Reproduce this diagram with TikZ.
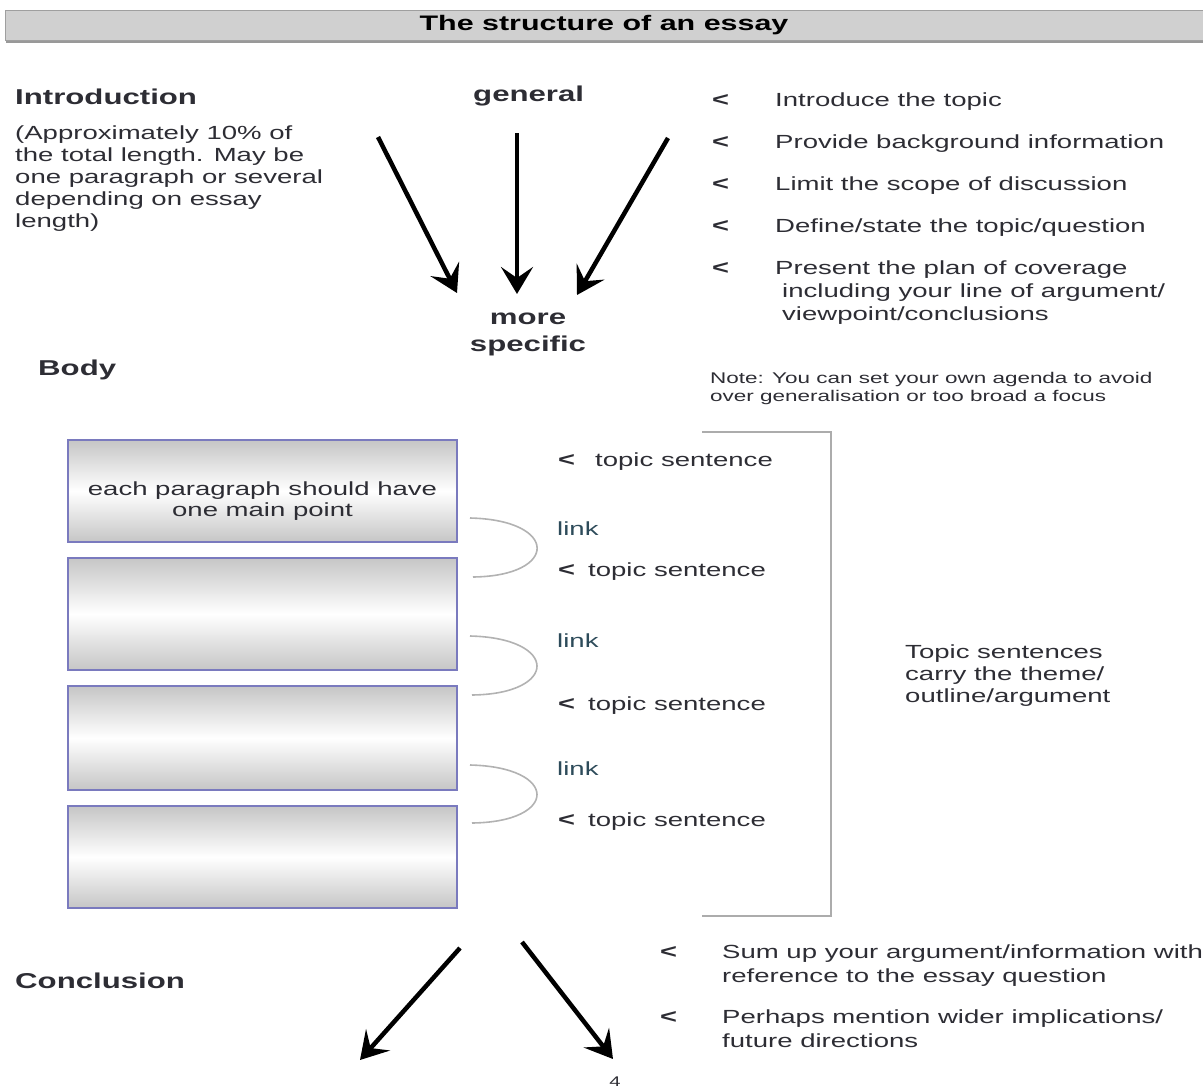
\documentclass[tikz,border=0pt]{standalone}
\usepackage{fontspec}
\setmainfont{Liberation Sans}[FakeStretch=1.45]
\usetikzlibrary{arrows.meta,positioning,shadows}

\definecolor{ink}{RGB}{45,45,52}
\definecolor{boxline}{RGB}{122,122,190}
\definecolor{barfill}{RGB}{208,208,208}
\definecolor{linkink}{RGB}{45,75,90}

\begin{document}
\begin{tikzpicture}
    [
      x=1pt, y=-1pt,
      every node/.style={inner sep=0pt, text=ink},
      heading/.style={font=\bfseries\fontsize{21.5}{27}\selectfont, anchor=base west},
      body/.style={font=\fontsize{19}{22}\selectfont, anchor=base west},
      multi/.style={font=\fontsize{19}{22}\selectfont, anchor=north west, align=left},
      cue/.style={font=\bfseries\fontsize{20}{22}\selectfont, anchor=base west},
      para/.style={draw=boxline, line width=1.5pt, minimum width=389pt,
        top color=gray!45, bottom color=gray!45, middle color=white},
      post/.style={-{Stealth[length=27pt,width=32pt,inset=11pt]}, line width=4.5pt},
      joint/.style={gray!60, line width=1.6pt},
    ]

    \useasboundingbox (0,0) rectangle (1203,1090);

    % title bar
    \node (title) [draw=gray!75, fill=barfill, line width=1pt,
      minimum width=1198pt, minimum height=30pt,
      drop shadow={shadow xshift=1pt, shadow yshift=-2.5pt, fill=gray!80, opacity=1},
      font=\bfseries\fontsize{21}{24}\selectfont, text=black] at (604,25) {The structure of an essay};

    % introduction
    \node (intro) [heading] at (15,104) {Introduction};
    \node (intro-note) [multi] at (15,126)
      {(Approximately 10\% of\\the total length.  May be\\one paragraph or several\\depending on essay\\length)};

    \node (general) [heading] at (473,101) {general};
    \node (specific) [heading, anchor=north, align=center]
      at (528,313) {more\\specific};

    \coordinate (fan-a) at (378,137);
    \coordinate (fan-b) at (517,133);
    \coordinate (fan-c) at (668,138);
    \coordinate (aim-a) at (457,293);
    \coordinate (aim-b) at (517,294);
    \coordinate (aim-c) at (577,295);

    \path
    (fan-a) edge [post] (aim-a)
    (fan-b) edge [post] (aim-b)
    (fan-c) edge [post] (aim-c)
    ;

    \node (cue-1) [cue] at (712,106) {<};
    \node (aim-topic) [body] at (775,106) {Introduce the topic};
    \node (cue-2) [cue] at (712,148) {<};
    \node (aim-back) [body] at (775,148) {Provide background information};
    \node (cue-3) [cue] at (712,190) {<};
    \node (aim-scope) [body] at (775,190) {Limit the scope of discussion};
    \node (cue-4) [cue] at (712,232) {<};
    \node (aim-define) [body] at (775,232) {Define/state the topic/question};
    \node (cue-5) [cue] at (712,274) {<};
    \node (aim-plan) [body] at (775,274) {Present the plan of coverage};
    \node (aim-plan-more) [multi, font=\fontsize{19}{23}\selectfont] at (782,284)
      {including your line of argument/\\viewpoint/conclusions};

    \node (note) [multi, font=\fontsize{15.5}{18}\selectfont] at (710,372)
      {Note: You can set your own agenda to avoid\\over generalisation or too broad a focus};

    % body
    \node (body) [heading] at (38,375) {Body};

    \node (para-a) [para, minimum height=102pt] at (262.5,491) {};
    \node (para-b) [para, minimum height=112pt] at (262.5,614) {};
    \node (para-c) [para, minimum height=104pt] at (262.5,738) {};
    \node (para-d) [para, minimum height=102pt] at (262.5,857) {};
    \node (main-point) [align=center, font=\fontsize{19}{21}\selectfont]
      at ([yshift=-10pt]para-a.center) {each paragraph should have\\one main point};

    \coordinate (link-a-in) at (470,518);
    \coordinate (link-a-out) at (473,577);
    \coordinate (link-b-in) at (470,636);
    \coordinate (link-b-out) at (472,695);
    \coordinate (link-c-in) at (470,765);
    \coordinate (link-c-out) at (472,823);
    \draw [joint] (link-a-in) .. controls (559,520) and (559,576) .. (link-a-out);
    \draw [joint] (link-b-in) .. controls (559,638) and (559,694) .. (link-b-out);
    \draw [joint] (link-c-in) .. controls (559,767) and (559,822) .. (link-c-out);

    \node (cue-t1) [cue] at (558,466) {<};
    \node (topic-1) [body] at (595,466) {topic sentence};
    \node (link-1) [body, text=linkink] at (557,535) {link};
    \node (cue-t2) [cue] at (558,576) {<};
    \node (topic-2) [body] at (588,576) {topic sentence};
    \node (link-2) [body, text=linkink] at (557,647) {link};
    \node (cue-t3) [cue] at (558,710) {<};
    \node (topic-3) [body] at (588,710) {topic sentence};
    \node (link-3) [body, text=linkink] at (557,775) {link};
    \node (cue-t4) [cue] at (558,826) {<};
    \node (topic-4) [body] at (588,826) {topic sentence};

    \coordinate (brace-top) at (702,432);
    \coordinate (brace-corner) at (831,916);
    \coordinate (brace-bot) at (702,916);
    \draw [gray!65, line width=1.6pt] (brace-top) -| (brace-corner) -- (brace-bot);

    \node (theme) [multi] at (905,645)
      {Topic sentences\\carry the theme/\\outline/argument};

    % conclusion
    \node (conclusion) [heading] at (15,988) {Conclusion};

    \coordinate (end-a) at (460,948);
    \coordinate (end-b) at (522,942);
    \coordinate (wide-a) at (360,1060);
    \coordinate (wide-b) at (613,1059);

    \path
    (end-a) edge [post] (wide-a)
    (end-b) edge [post] (wide-b)
    ;

    \node (cue-s) [cue] at (660,958) {<};
    \node (sum-up) [multi, font=\fontsize{19}{24}\selectfont] at (722,945)
      {Sum up your argument/information with\\reference to the essay question};
    \node (cue-w) [cue] at (660,1023) {<};
    \node (wider) [multi, font=\fontsize{19}{24}\selectfont] at (722,1010)
      {Perhaps mention wider implications/\\future directions};

    \node (page) [font=\fontsize{14}{16}\selectfont] at (615,1082) {4};

  \end{tikzpicture}
\end{document}
